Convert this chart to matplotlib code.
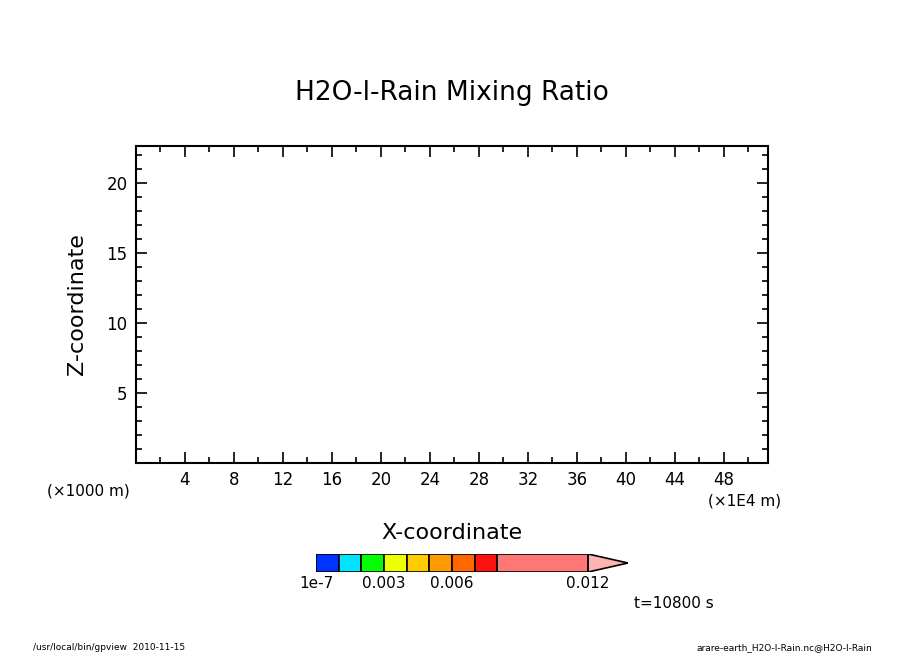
import matplotlib
matplotlib.use("Agg")
import matplotlib.pyplot as plt
from matplotlib.patches import Rectangle, Polygon
from matplotlib.ticker import MultipleLocator

x_ticks = [4, 8, 12, 16, 20, 24, 28, 32, 36, 40, 44, 48]
y_ticks = [5, 10, 15, 20]
levels = [1e-7, 0.001, 0.002, 0.003, 0.004, 0.005, 0.006, 0.007, 0.008, 0.012]
level_labels = {1e-7: "1e-7", 0.003: "0.003", 0.006: "0.006", 0.012: "0.012"}
colors = ["#0033ff", "#00e5ff", "#00ff00", "#eeff00", "#ffcc00", "#ff9900",
          "#ff6600", "#ff1111", "#ff7777"]
over_color = "#ffb3b3"

W, H = 904, 654
fig = plt.figure(figsize=(W/100, H/100), dpi=100)
ax = fig.add_axes([136/W, 1-463/H, (768-136)/W, (463-146)/H])
ax.set_xlim(0, 51.6)
ax.set_ylim(0, 22.65)
ax.set_xticks(x_ticks)
ax.set_yticks(y_ticks)
ax.xaxis.set_minor_locator(MultipleLocator(2))
ax.yaxis.set_minor_locator(MultipleLocator(1))
ax.tick_params(which="both", direction="in", top=True, right=True, labelsize=12, width=1.2)
ax.tick_params(which="major", length=8, pad=6)
ax.tick_params(which="minor", length=4)
for s in ax.spines.values():
    s.set_linewidth(1.5)
ax.set_xlabel("X-coordinate", fontsize=16, labelpad=24)
ax.set_ylabel("Z-coordinate", fontsize=16, labelpad=14)
fig.text(452/W, 1-93/H, "H2O-l-Rain Mixing Ratio", fontsize=19, ha="center", va="center")
fig.text(47/W, 1-491/H, "(×1000 m)", fontsize=11, ha="left", va="center")
fig.text(781/W, 1-501/H, "(×1E4 m)", fontsize=11, ha="right", va="center")
fig.text(634/W, 1-604/H, "t=10800 s", fontsize=11, ha="left", va="center")
fig.text(33/W, 1-648/H, "/usr/local/bin/gpview  2010-11-15", fontsize=6.5, ha="left", va="center")
fig.text(872/W, 1-648/H, "arare-earth_H2O-l-Rain.nc@H2O-l-Rain", fontsize=6.5, ha="right", va="center")

# colorbar
cax = fig.add_axes([316/W, 1-572/H, (628-316)/W, 18/H])
cax.set_xlim(0, 0.012 + 0.012*40/272*0 + 0.004*40/91)
cax.set_ylim(0, 1)
cax.axis("off")
for i, c in enumerate(colors):
    lo = 0.0 if i == 0 else levels[i]
    cax.add_patch(Rectangle((lo, 0), levels[i+1]-lo, 1, facecolor=c, edgecolor="black", lw=1.2))
tip = cax.get_xlim()[1]
cax.add_patch(Polygon([(0.012, 0), (0.012, 1), (tip, 0.5)], closed=True,
                      facecolor=over_color, edgecolor="black", lw=1.2))
for v, t in level_labels.items():
    pos = 0.0 if v == 1e-7 else v
    cax.text(pos, -0.25, t, ha="center", va="top", fontsize=11, transform=cax.transData)

fig.savefig("out.png", dpi=100)
